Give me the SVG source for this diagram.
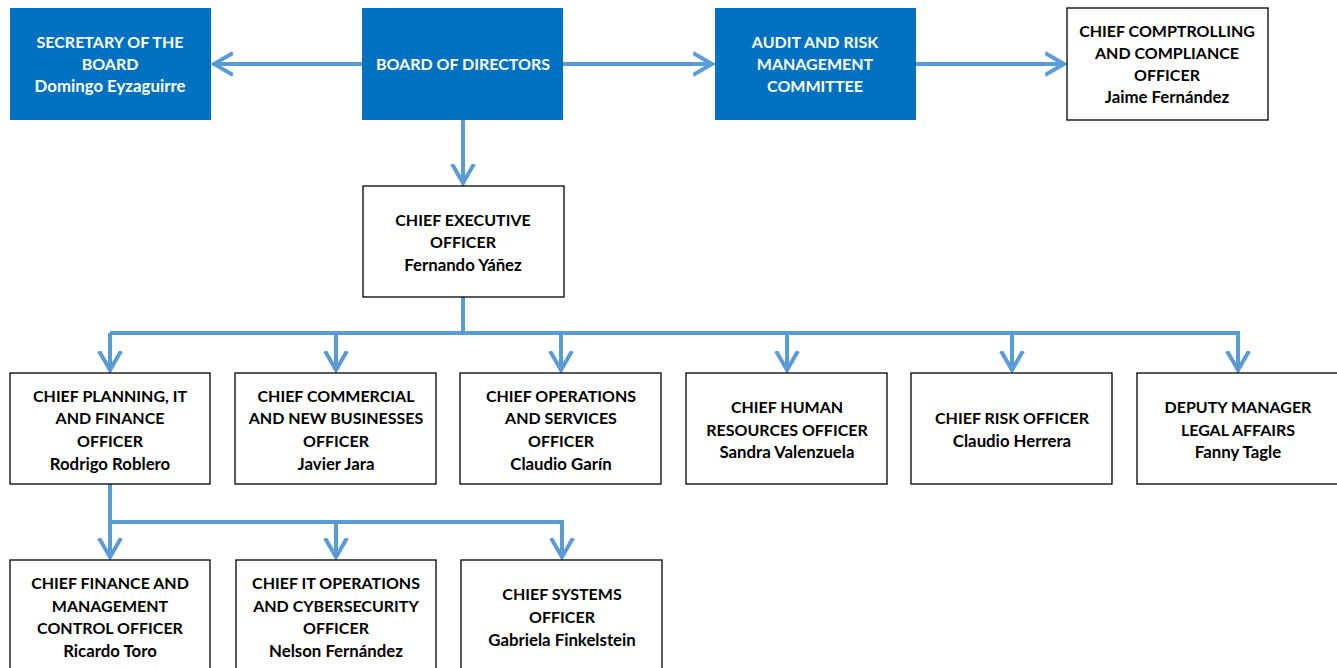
<svg xmlns="http://www.w3.org/2000/svg" width="1337" height="668" viewBox="0 0 1337 668">
  <defs>
    <style>
      .blue { fill: #0070C0; }
      .box { fill: #ffffff; stroke: #000000; stroke-width: 1.3; }
      text { font-family: Lato, "Liberation Sans", sans-serif; font-weight: 700; font-size: 16px; text-anchor: middle; }
      text.n { font-size: 16.8px; }
      .w { fill: #ffffff; }
      .k { fill: #000000; }
      .link { fill: none; stroke: #5B9BD5; stroke-width: 4; }
    </style>
    <marker id="chev" markerUnits="userSpaceOnUse" viewBox="-20 -14 24 28" markerWidth="24" markerHeight="28" refX="0" refY="0" orient="auto">
      <path d="M -20 -11 L -1 0 L -20 11" fill="none" stroke="#5B9BD5" stroke-width="4"/>
    </marker>
  </defs>

  <rect width="1337" height="668" fill="#ffffff"/>

  <!-- connectors -->
  <g id="connectors">
    <path class="link" d="M362 64 H213" marker-end="url(#chev)"/>
    <path class="link" d="M563 64 H713" marker-end="url(#chev)"/>
    <path class="link" d="M916 64 H1065" marker-end="url(#chev)"/>
    <path class="link" d="M463 120 V184" marker-end="url(#chev)"/>
    <path class="link" d="M463 297 V333"/>
    <path class="link" d="M110 333 H1238"/>
    <path class="link" d="M110 333 V371" marker-end="url(#chev)"/>
    <path class="link" d="M336 333 V371" marker-end="url(#chev)"/>
    <path class="link" d="M561 333 V371" marker-end="url(#chev)"/>
    <path class="link" d="M787 333 V371" marker-end="url(#chev)"/>
    <path class="link" d="M1012 333 V371" marker-end="url(#chev)"/>
    <path class="link" d="M1238 331 V371" marker-end="url(#chev)"/>
    <path class="link" d="M110 484 V558" marker-end="url(#chev)"/>
    <path class="link" d="M110 522 H562"/>
    <path class="link" d="M336 522 V558" marker-end="url(#chev)"/>
    <path class="link" d="M562 520 V558" marker-end="url(#chev)"/>
  </g>

  <!-- board level -->
  <g id="secretary">
    <rect class="blue" x="10" y="8" width="201" height="112"/>
    <text class="w" x="110" y="48">SECRETARY OF THE</text>
    <text class="w" x="110" y="70">BOARD</text>
    <text class="w n" x="110" y="92">Domingo Eyzaguirre</text>
  </g>
  <g id="board">
    <rect class="blue" x="362" y="8" width="201" height="112"/>
    <text class="w" x="463" y="70">BOARD OF DIRECTORS</text>
  </g>
  <g id="audit">
    <rect class="blue" x="715" y="8" width="201" height="112"/>
    <text class="w" x="815" y="48">AUDIT AND RISK</text>
    <text class="w" x="815" y="70">MANAGEMENT</text>
    <text class="w" x="815" y="92">COMMITTEE</text>
  </g>
  <g id="comptrolling">
    <rect class="box" x="1067" y="8" width="201" height="112"/>
    <text class="k" x="1167" y="37">CHIEF COMPTROLLING</text>
    <text class="k" x="1167" y="59">AND COMPLIANCE</text>
    <text class="k" x="1167" y="81">OFFICER</text>
    <text class="k n" x="1167" y="103">Jaime Fernández</text>
  </g>

  <!-- executive -->
  <g id="ceo">
    <rect class="box" x="363" y="186" width="201" height="111"/>
    <text class="k" x="463" y="226">CHIEF EXECUTIVE</text>
    <text class="k" x="463" y="248">OFFICER</text>
    <text class="k n" x="463" y="271">Fernando Yáñez</text>
  </g>

  <!-- division heads -->
  <g id="planning">
    <rect class="box" x="10" y="373" width="200" height="111"/>
    <text class="k" x="110" y="402">CHIEF PLANNING, IT</text>
    <text class="k" x="110" y="424">AND FINANCE</text>
    <text class="k" x="110" y="447">OFFICER</text>
    <text class="k n" x="110" y="470">Rodrigo Roblero</text>
  </g>
  <g id="commercial">
    <rect class="box" x="235" y="373" width="201" height="111"/>
    <text class="k" x="336" y="402">CHIEF COMMERCIAL</text>
    <text class="k" x="336" y="424">AND NEW BUSINESSES</text>
    <text class="k" x="336" y="447">OFFICER</text>
    <text class="k n" x="336" y="470">Javier Jara</text>
  </g>
  <g id="operations">
    <rect class="box" x="460" y="373" width="201" height="111"/>
    <text class="k" x="561" y="402">CHIEF OPERATIONS</text>
    <text class="k" x="561" y="424">AND SERVICES</text>
    <text class="k" x="561" y="447">OFFICER</text>
    <text class="k n" x="561" y="470">Claudio Garín</text>
  </g>
  <g id="hr">
    <rect class="box" x="686" y="373" width="201" height="111"/>
    <text class="k" x="787" y="413">CHIEF HUMAN</text>
    <text class="k" x="787" y="436">RESOURCES OFFICER</text>
    <text class="k n" x="787" y="458">Sandra Valenzuela</text>
  </g>
  <g id="risk">
    <rect class="box" x="911" y="373" width="201" height="111"/>
    <text class="k" x="1012" y="424">CHIEF RISK OFFICER</text>
    <text class="k n" x="1012" y="447">Claudio Herrera</text>
  </g>
  <g id="legal">
    <rect class="box" x="1137" y="373" width="201" height="111"/>
    <text class="k" x="1238" y="413">DEPUTY MANAGER</text>
    <text class="k" x="1238" y="436">LEGAL AFFAIRS</text>
    <text class="k n" x="1238" y="458">Fanny Tagle</text>
  </g>

  <!-- planning reports -->
  <g id="finance">
    <rect class="box" x="10" y="560" width="200" height="112"/>
    <text class="k" x="110" y="589">CHIEF FINANCE AND</text>
    <text class="k" x="110" y="612">MANAGEMENT</text>
    <text class="k" x="110" y="634">CONTROL OFFICER</text>
    <text class="k n" x="110" y="657">Ricardo Toro</text>
  </g>
  <g id="itops">
    <rect class="box" x="236" y="560" width="200" height="112"/>
    <text class="k" x="336" y="589">CHIEF IT OPERATIONS</text>
    <text class="k" x="336" y="612">AND CYBERSECURITY</text>
    <text class="k" x="336" y="634">OFFICER</text>
    <text class="k n" x="336" y="657">Nelson Fernández</text>
  </g>
  <g id="systems">
    <rect class="box" x="461" y="560" width="201" height="112"/>
    <text class="k" x="562" y="600">CHIEF SYSTEMS</text>
    <text class="k" x="562" y="623">OFFICER</text>
    <text class="k n" x="562" y="646">Gabriela Finkelstein</text>
  </g>
</svg>
